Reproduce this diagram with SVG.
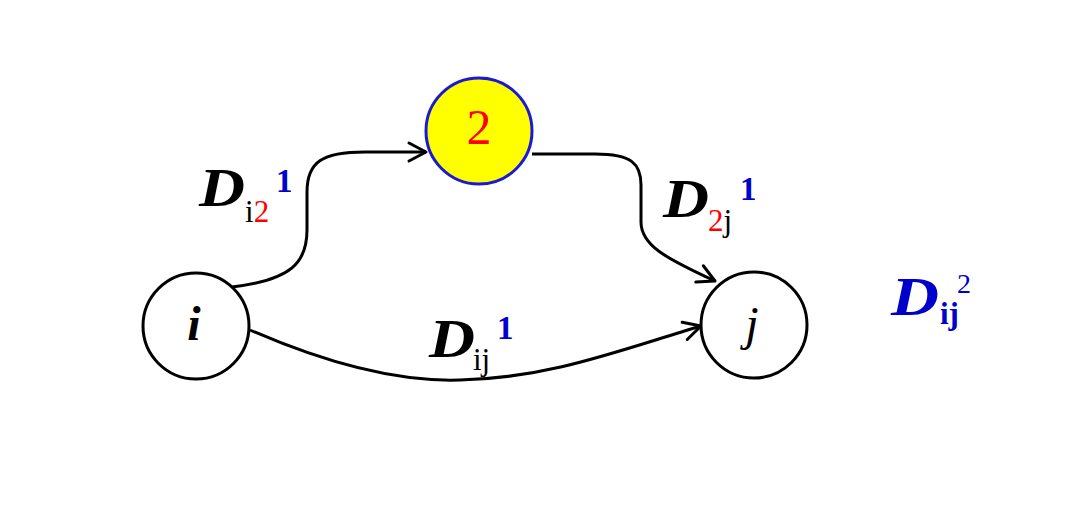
<svg xmlns="http://www.w3.org/2000/svg" width="1067" height="528" viewBox="0 0 1067 528">
<defs>
<marker id="arr" markerUnits="userSpaceOnUse" markerWidth="24" markerHeight="24" viewBox="-20 -12 24 24" refX="0" refY="0" orient="auto">
<path d="M-17,-9 L0,0 L-17,9" fill="none" stroke="#000" stroke-width="3" stroke-linecap="round" stroke-linejoin="round"/>
</marker>
</defs>
<style>
.node{fill:#fff;stroke:#000;stroke-width:3}
.edge{fill:none;stroke:#000;stroke-width:3;marker-end:url(#arr)}
.D{font-family:"Liberation Serif",serif;font-weight:bold;font-style:italic;font-size:55px}
.sub{font-family:"Liberation Serif",serif;font-size:31px}
.sup{font-family:"Liberation Serif",serif;font-weight:bold;font-size:33px;fill:#0000cc}
.lbl{font-family:"Liberation Serif",serif;font-style:italic;font-weight:bold;font-size:48px;text-anchor:middle}
</style>
<rect width="1067" height="528" fill="#fff"/>
<g id="connectors">
<path class="edge" d="M232,287 C292,280 307,262 307,230 L307,192 C307,162 322,152 365,152 L426,152"/>
<path class="edge" d="M532,154 L595,154 C632,154 641,164 641,185 L641,222 C641,245 665,258 715,281"/>
<path class="edge" d="M250,330 C330,365 400,382 460,380 C550,378 620,350 701,326"/>
</g>
<g id="node-i">
<circle class="node" cx="196" cy="326" r="53"/>
<text class="lbl" x="194" y="340">i</text>
</g>
<g id="node-2">
<circle cx="479" cy="131" r="53" fill="#ffff00" stroke="#1a1ad6" stroke-width="3"/>
<text x="479" y="144" font-family="Liberation Serif,serif" font-size="50" fill="#ff0000" text-anchor="middle">2</text>
</g>
<g id="node-j">
<circle class="node" cx="754" cy="325" r="53"/>
<text class="lbl" x="752" y="340" style="font-weight:normal">j</text>
</g>
<g id="label-i2">
<text class="D" x="199" y="206" textLength="46" lengthAdjust="spacingAndGlyphs">D</text>
<text class="sub" x="245" y="222">i<tspan fill="#ff0000">2</tspan></text>
<text class="sup" x="276" y="192">1</text>
</g>
<g id="label-2j">
<text class="D" x="663" y="217" textLength="46" lengthAdjust="spacingAndGlyphs">D</text>
<text class="sub" x="708" y="231"><tspan fill="#ff0000">2</tspan>j</text>
<text class="sup" x="740" y="200">1</text>
</g>
<g id="label-ij">
<text class="D" x="429" y="357" textLength="46" lengthAdjust="spacingAndGlyphs">D</text>
<text class="sub" x="473" y="370">ij</text>
<text class="sup" x="497" y="339">1</text>
</g>
<g id="label-ij2">
<text class="D" x="891" y="315" fill="#0000cc" textLength="48" lengthAdjust="spacingAndGlyphs">D</text>
<text class="sub" x="940" y="324" fill="#0000cc" font-weight="bold">ij</text>
<text x="957" y="293" font-family="Liberation Serif,serif" font-size="28" fill="#0000cc">2</text>
</g>
</svg>
